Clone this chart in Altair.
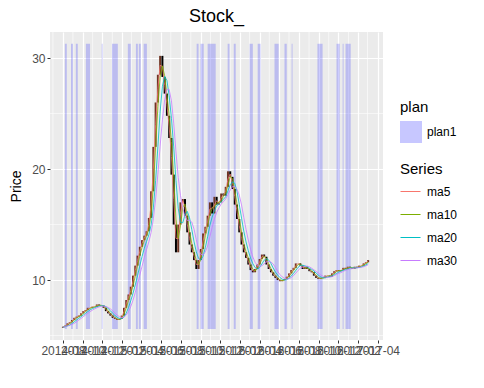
import altair as alt
import pandas as pd

# weekly closing prices (first week 2014-08-01)
start_week = "2014-08-01"
close = [5.8, 5.9, 6.1, 6.2, 6.4, 6.6, 6.7, 6.8, 7.0, 7.2,
         7.3, 7.5, 7.5, 7.6, 7.6, 7.8, 7.7, 7.7, 7.5, 7.2,
         7.0, 6.8, 6.6, 6.5, 6.4, 6.5, 6.8, 7.5, 8.2, 8.7,
         9.4, 10.4, 11.3, 12.2, 13.0, 13.6, 14.0, 14.4, 15.6, 18.0,
         22.0, 26.0, 28.5, 30.2, 28.3, 26.8, 24.8, 22.8, 19.5, 15.0,
         12.5, 15.0, 17.0, 17.3, 15.8, 14.3, 13.2, 12.5, 11.8, 11.0,
         11.8, 12.8, 14.2, 14.8, 15.8, 17.0, 16.0, 17.5, 16.8, 17.0,
         17.8, 17.6, 18.4, 19.8, 19.3, 18.2, 16.8, 15.5, 14.3, 13.2,
         12.5, 12.0, 11.4, 10.9, 10.7, 11.0, 11.4, 11.9, 12.3, 12.1,
         11.4, 11.0, 10.7, 10.4, 10.2, 10.0, 9.9, 10.0, 10.1, 10.3,
         10.6, 10.9, 11.1, 11.5, 11.5, 11.3, 11.0, 11.2, 11.0, 10.8,
         10.7, 10.4, 10.2, 10.1, 10.2, 10.2, 10.4, 10.4, 10.3, 10.6,
         10.8, 10.9, 10.8, 10.9, 11.1, 11.0, 11.2, 11.1, 11.0, 11.2,
         11.1, 11.3, 11.3, 11.5, 11.6, 11.8]
first_open = 5.7

# plan1 periods
plan_start = ["2014-08-07", "2014-08-26", "2014-09-10", "2014-10-11", "2014-11-29",
              "2014-12-31", "2015-02-18", "2015-03-15", "2015-03-24", "2015-04-08",
              "2015-09-19", "2015-10-01", "2015-10-23", "2015-12-24", "2016-01-12",
              "2016-03-01", "2016-03-26", "2016-05-17", "2016-06-17", "2016-07-09",
              "2016-09-27", "2016-11-25", "2016-12-14", "2016-12-23"]
plan_end = ["2014-08-13", "2014-09-01", "2014-09-16", "2014-10-24", "2014-12-02",
            "2015-01-18", "2015-02-27", "2015-03-21", "2015-03-30", "2015-04-18",
            "2015-09-25", "2015-10-11", "2015-11-17", "2015-12-30", "2016-01-18",
            "2016-03-11", "2016-04-04", "2016-05-30", "2016-06-24", "2016-07-12",
            "2016-10-13", "2016-12-05", "2016-12-17", "2017-01-08"]
band_low = 5.6
band_high = 31.3

series_names = ["ma5", "ma10", "ma20", "ma30"]
series_weeks = [1, 2, 4, 6]
series_colors = ["#F8766D", "#7CAE00", "#00BFC4", "#C77CFF"]

x_domain = ["2014-06-22", "2017-04-18"]
y_domain = [4.6, 32.35]
major_ticks = pd.date_range("2014-08-01", "2017-04-01", freq="2MS")
minor_ticks = pd.date_range("2014-07-01", "2017-03-01", freq="2MS")
y_major = [10, 20, 30]
y_minor = [5, 15, 25]

FONT = "Liberation Sans"

dates = pd.date_range(start_week, periods=len(close), freq="7D")
df = pd.DataFrame({"date": dates.strftime("%Y-%m-%d"), "close": close})
df["open"] = df["close"].shift(1).fillna(first_open)
mid = (df["open"] + df["close"]) / 2
for name, w in zip(series_names, series_weeks):
    df[name] = mid.rolling(w, min_periods=1).mean()

lines = df.melt(id_vars=["date"], value_vars=series_names, var_name="Series", value_name="value")
plans = pd.DataFrame({"start": plan_start, "end": plan_end, "plan": "plan1",
                      "lo": band_low, "hi": band_high})
minor_x = pd.DataFrame({"d": minor_ticks.strftime("%Y-%m-%d")})
minor_y = pd.DataFrame({"v": y_minor})

to_ms = lambda s: int(pd.Timestamp(s).value // 10**6)
xscale = alt.Scale(type="utc", domain=[to_ms(d) for d in x_domain], nice=False)
yscale = alt.Scale(domain=y_domain, nice=False, zero=False)

xaxis = alt.Axis(
    values=[to_ms(d) for d in major_ticks],
    labelExpr="utcFormat(datum.value, '%Y-%m')",
    title=None, domain=False, labelOverlap=False, labelFlush=False, labelBound=False,
    labelFontSize=12, labelColor="#4D4D4D", labelFont=FONT, labelPadding=2,
    tickSize=3, tickColor="#333333", gridColor="white", gridWidth=1.2,
)
yaxis = alt.Axis(
    values=y_major,
    title="Price", titleFont=FONT, titleFontSize=14, titleFontWeight="normal",
    titleColor="black", titlePadding=8,
    domain=False, labelFontSize=12, labelColor="#4D4D4D", labelFont=FONT, labelPadding=2,
    tickSize=3, tickColor="#333333", gridColor="white", gridWidth=1.2,
)

gx = alt.Chart(minor_x).mark_rule(color="white", strokeWidth=0.6).encode(
    x=alt.X("d:T", scale=xscale, axis=xaxis))
gy = alt.Chart(minor_y).mark_rule(color="white", strokeWidth=0.6).encode(
    y=alt.Y("v:Q", scale=yscale, axis=yaxis))

bands = alt.Chart(plans).mark_rect(opacity=0.2).encode(
    x=alt.X("start:T", scale=xscale, axis=xaxis),
    x2="end:T",
    y=alt.Y("lo:Q", scale=yscale, axis=yaxis),
    y2="hi:Q",
    fill=alt.Fill("plan:N", scale=alt.Scale(domain=["plan1"], range=["#0000FF"]),
                  legend=alt.Legend(title="plan", orient="none", legendX=350, legendY=68,
                                    symbolType="square", symbolSize=484, symbolOpacity=0.22,
                                    symbolStrokeWidth=0, titleFontSize=15, labelFontSize=12,
                                    titleFont=FONT, labelFont=FONT, titleFontWeight="normal",
                                    titleColor="black", labelColor="black", labelOffset=5,
                                    titlePadding=6)),
)

candles = alt.Chart(df).mark_rule(strokeWidth=2).encode(
    x=alt.X("date:T", scale=xscale, axis=xaxis),
    y=alt.Y("open:Q", scale=yscale, axis=yaxis),
    y2="close:Q",
    color=alt.condition("datum.close >= datum.open", alt.value("#6e3524"), alt.value("black")),
)

ma = alt.Chart(lines).mark_line(strokeWidth=0.8).encode(
    x=alt.X("date:T", scale=xscale, axis=xaxis),
    y=alt.Y("value:Q", scale=yscale, axis=yaxis),
    color=alt.Color("Series:N", sort=series_names,
                    scale=alt.Scale(domain=series_names, range=series_colors),
                    legend=alt.Legend(title="Series", orient="none", legendX=350, legendY=130,
                                      symbolType="stroke", symbolSize=400, symbolStrokeWidth=1,
                                      titleFontSize=15, labelFontSize=12, titleFont=FONT,
                                      labelFont=FONT, titleFontWeight="normal",
                                      titleColor="black", labelColor="black",
                                      clipHeight=17, rowPadding=6, labelOffset=6,
                                      titlePadding=6)),
    detail="Series:N",
)

chart = alt.layer(gx, gy, bands, candles, ma).properties(
    width=333, height=308,
    title=alt.TitleParams("Stock_", fontSize=18, font=FONT, fontWeight="normal",
                          color="black", anchor="middle", offset=6),
    autosize=alt.AutoSizeParams(type="none"),
    padding={"left": 50, "top": 32, "right": 101, "bottom": 48},
    background="white",
).configure_view(fill="#EBEBEB", stroke=None)

chart.save("out.html", embed_options={"renderer": "svg", "actions": False})
